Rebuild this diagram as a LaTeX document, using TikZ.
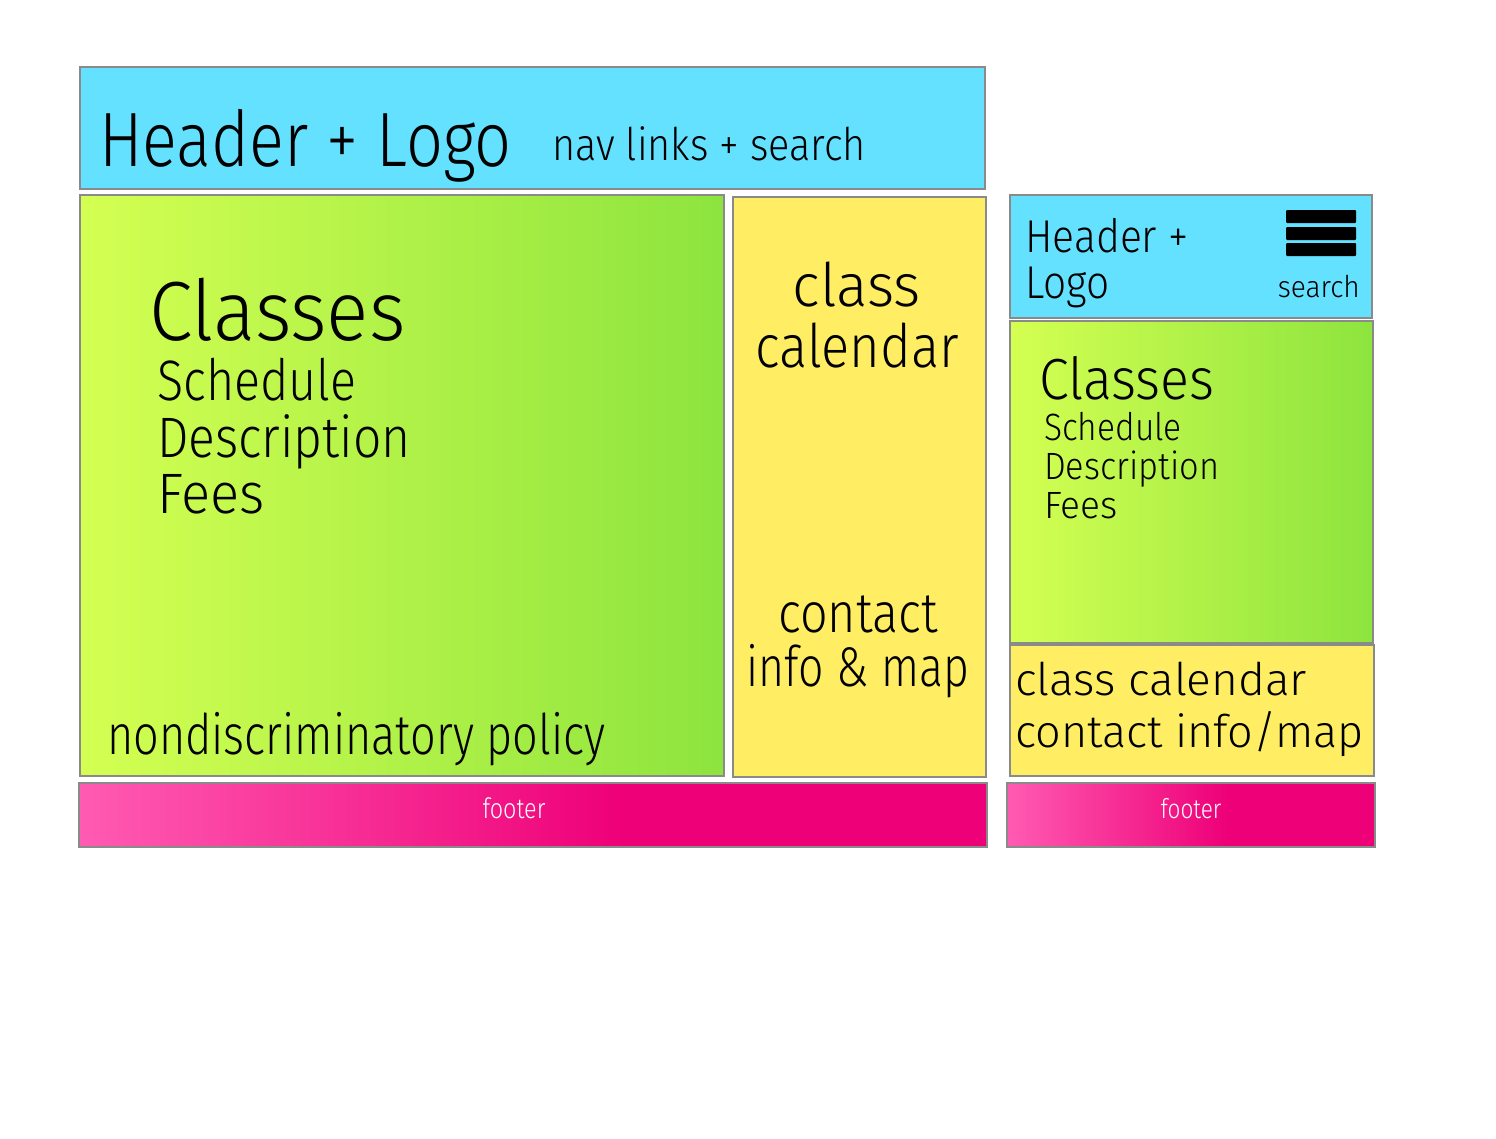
\documentclass[tikz,border=0pt]{standalone}
\usepackage{fontspec}
\setmainfont{Fira Sans}[UprightFont=* Light, FakeStretch=0.78]
% horizontal-only scaling of a label
\newcommand\wx[2]{\scalebox{#1}[1]{#2}}
\begin{document}
\definecolor{skyfill}{HTML}{64E1FF}
\definecolor{limeL}{HTML}{D4FF52}
\definecolor{limeR}{HTML}{8DE43E}
\definecolor{sunfill}{HTML}{FFEE63}
\definecolor{pinkL}{HTML}{FF5BB2}
\definecolor{pinkR}{HTML}{EE0078}
\definecolor{edge}{HTML}{8A8A8A}
\pgfdeclarehorizontalshading{footshade}{100bp}{color(0bp)=(pinkL); color(25bp)=(pinkL); color(55bp)=(pinkR); color(100bp)=(pinkR)}
\begin{tikzpicture}[x=1pt,y=-1pt,
  panel/.style={draw=edge,line width=1.1pt},
  greenpanel/.style={panel,left color=limeL,right color=limeR},
  footpanel/.style={panel,shading=footshade},
  txt/.style={inner sep=0pt,anchor=base west,text=black},
  ctxt/.style={inner sep=0pt,anchor=base,text=black},
  fs/.style={font=\fontsize{#1}{#1}\selectfont}]
\useasboundingbox (0,0) rectangle (1496,1138);

% ---- desktop layout ----
\fill[skyfill,panel] (80,67) rectangle (985,189);
\shade[greenpanel] (80,195) rectangle (724,776);
\fill[sunfill,panel] (733,197) rectangle (986,777);
\shade[footpanel] (79,783) rectangle (987,847);

\node[txt,fs=77] (hdr) at (99,166) {\wx{1.08}{Header + Logo}};
\node[txt,fs=45] (nav) at (552,160) {\wx{1.13}{nav links + search}};

\node[txt,fs=84] (cls) at (149,340) {\wx{1.2}{Classes}};
\node[txt,fs=57] (sch) at (157,400) {\wx{1.09}{Schedule}};
\node[txt,fs=57] (dsc) at (157,457) {\wx{1.12}{Description}};
\node[txt,fs=57] (fee) at (157,513) {\wx{1.22}{Fees}};
\node[txt,fs=56] (pol) at (107,754) {\wx{1.03}{nondiscriminatory policy}};

\node[ctxt,fs=60] (cal1) at (857,306) {\wx{1.25}{class}};
\node[ctxt,fs=60] (cal2) at (857,367) {\wx{1.12}{calendar}};
\node[ctxt,fs=56] (con1) at (858,632) {\wx{1.11}{contact}};
\node[ctxt,fs=56] (con2) at (858,686) {\wx{1.02}{info \& map}};

\node[ctxt,fs=28,text=white] (ft) at (514,818) {\wx{1.07}{footer}};

% ---- mobile layout ----
\fill[skyfill,panel] (1010,195) rectangle (1372,318);
\shade[greenpanel] (1010,321) rectangle (1373,643);
\fill[sunfill,panel] (1010,645) rectangle (1374,776);
\shade[footpanel] (1007,783) rectangle (1375,847);

\node[txt,fs=46] (mhdr1) at (1025,252) {\wx{1.14}{Header +}};
\node[txt,fs=46] (mhdr2) at (1025,298) {\wx{1.13}{Logo}};
\foreach \yy in {210,227,243}
  \fill[black,rounded corners=1pt] (1286,\yy) rectangle (1356,\yy+13);
\node[anchor=base east,inner sep=0pt,fs=30] (msrch) at (1360,297) {\wx{1.2}{search}};

\node[txt,fs=58] (mcls) at (1039,399) {\wx{1.19}{Classes}};
\node[txt,fs=38] (msch) at (1044,440) {\wx{1.13}{Schedule}};
\node[txt,fs=38] (mdsc) at (1044,479) {\wx{1.16}{Description}};
\node[txt,fs=38] (mfee) at (1044,518) {\wx{1.25}{Fees}};

\node[txt,fs=45] (mcal) at (1015,695) {\wx{1.31}{class calendar}};
\node[txt,fs=45] (mcon) at (1015,747) {\wx{1.28}{contact info/map}};

\node[ctxt,fs=27,text=white] (mft) at (1191,818) {\wx{1.07}{footer}};
\end{tikzpicture}
\end{document}
